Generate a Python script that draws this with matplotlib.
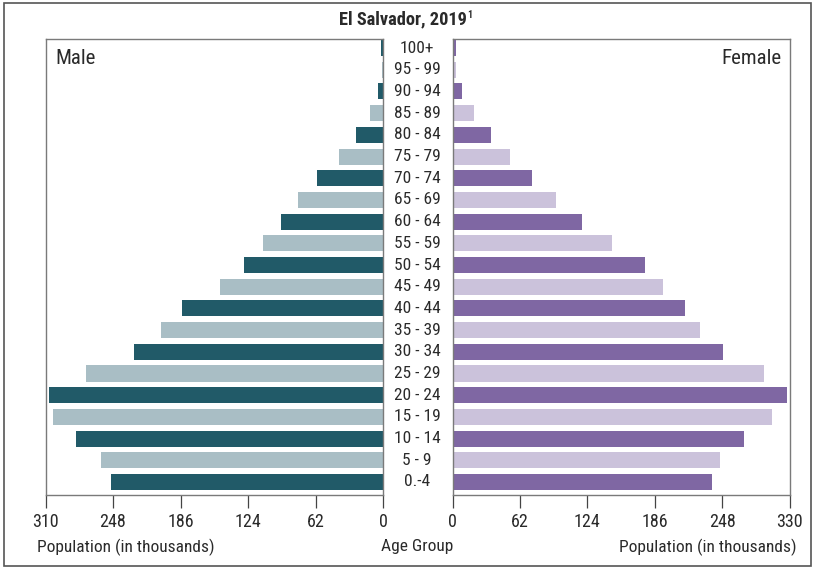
import matplotlib
matplotlib.use("Agg")
import matplotlib.pyplot as plt
from matplotlib import font_manager as fm
import numpy as np

age_groups = ["0.-4", "5 - 9", "10 - 14", "15 - 19", "20 - 24", "25 - 29", "30 - 34",
              "35 - 39", "40 - 44", "45 - 49", "50 - 54", "55 - 59", "60 - 64", "65 - 69",
              "70 - 74", "75 - 79", "80 - 84", "85 - 89", "90 - 94", "95 - 99", "100+"]
male = [250, 259, 282, 303, 307, 273, 229, 204, 185, 150, 128, 110, 94, 78, 61, 40, 25, 12, 4.5, 1.2, 1.6]
female = [239, 246, 268, 294, 308, 287, 249, 228, 214, 194, 177, 147, 119, 95, 73, 53, 35, 20, 9, 3.3, 2.8]
tick_vals = [0, 62, 124, 186, 248, 310]
male_tick_labels = ["0", "62", "124", "186", "248", "310"]
female_tick_labels = ["0", "62", "124", "186", "248", "330"]

names = {f.name for f in fm.fontManager.ttflist}
fam = "DejaVu Sans"
for cand in ["Roboto Condensed", "Archivo Narrow", "PT Sans Narrow", "Liberation Sans"]:
    if cand in names:
        fam = cand
        break
plt.rcParams["font.family"] = [fam, "DejaVu Sans"]

M_DARK, M_LIGHT = "#215a68", "#a9bec5"
F_DARK, F_LIGHT = "#7f67a3", "#cbc2db"
EDGE = "#7a7a7a"
TXT = "#2a2a2a"

fig = plt.figure(figsize=(8.13, 5.69), dpi=100)
y = np.arange(len(age_groups))
axL = fig.add_axes([45.5/813, 1-495/569, (383-45.5)/813, (495-38.5)/569])
axR = fig.add_axes([452.5/813, 1-495/569, (789.5-452.5)/813, (495-38.5)/569])

mcol = [M_DARK if i % 2 == 0 else M_LIGHT for i in range(len(y))]
fcol = [F_DARK if i % 2 == 0 else F_LIGHT for i in range(len(y))]
axL.barh(y, male, height=0.74, color=mcol)
axR.barh(y, female, height=0.74, color=fcol)

axL.set_xlim(310, 0)
axR.set_xlim(0, 310)
for ax in (axL, axR):
    ax.set_ylim(-0.6, 20.44)
    ax.set_yticks([])
    for s in ax.spines.values():
        s.set_color(EDGE)
        s.set_linewidth(1.0)
    ax.tick_params(axis="x", direction="out", length=9, width=0.9, color="#444444",
                   labelsize=13, labelcolor=TXT, pad=4)
axL.set_xticks(tick_vals)
axL.set_xticklabels(male_tick_labels)
axR.set_xticks(tick_vals)
axR.set_xticklabels(female_tick_labels)

axL.text(0.028, 0.978, "Male", transform=axL.transAxes, ha="left", va="top", fontsize=15, color=TXT)
axR.text(0.975, 0.978, "Female", transform=axR.transAxes, ha="right", va="top", fontsize=15, color=TXT)

for i, lab in enumerate(age_groups):
    axR.annotate(lab, xy=(0, i), xycoords=("axes fraction", "data"), xytext=(-35.5, 0),
                 textcoords="offset pixels", ha="center", va="center", fontsize=12.5, color=TXT,
                 annotation_clip=False)

fig.text(126/813, 1-547/569, "Population (in thousands)", ha="center", va="center", fontsize=12.5, color=TXT)
fig.text(708/813, 1-547/569, "Population (in thousands)", ha="center", va="center", fontsize=12.5, color=TXT)
fig.text(417/813, 1-547/569, "Age Group", ha="center", va="center", fontsize=12.5, color=TXT)
fig.text(467/813, 1-19/569, "El Salvador, 2019", ha="right", va="center",
         fontsize=13.2, fontweight="bold", color=TXT)
fig.text(467/813, 1-10/569, "1", ha="left", va="top", fontsize=7, fontweight="bold", color=TXT)

frame = plt.Rectangle((4/813, 3/569), 807/813, 563/569, transform=fig.transFigure,
                      fill=False, edgecolor="#555555", linewidth=1.2)
fig.patches.append(frame)

fig.savefig("out.png", dpi=100)
